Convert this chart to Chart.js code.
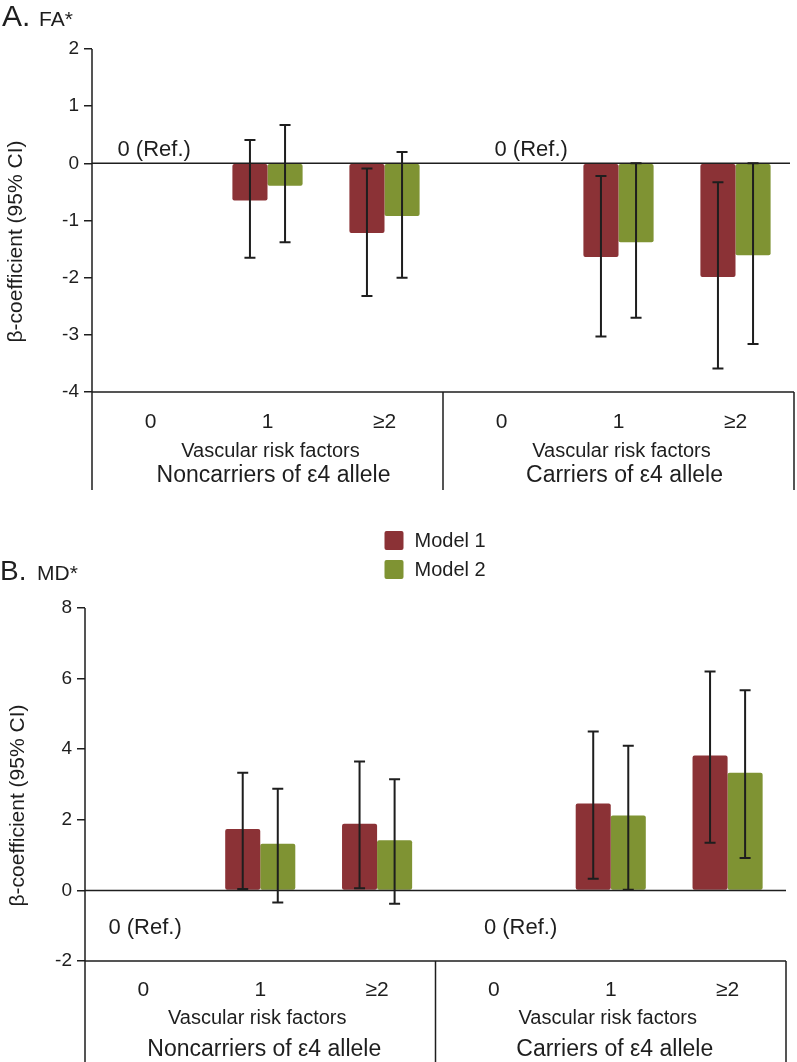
<!DOCTYPE html>
<html>
<head>
<meta charset="utf-8">
<script src="https://cdn.jsdelivr.net/npm/chart.js@4/dist/chart.umd.min.js"></script>
<style>
  html, body { margin: 0; padding: 0; background: #ffffff; }
  #wrap { position: relative; width: 797px; height: 1062px; overflow: hidden; background: #fff; }
  #c1 { position: absolute; left: 0; top: 0; }
  #c2 { position: absolute; left: 0; top: 500px; }
</style>
</head>
<body>
<div id="wrap">
  <canvas id="c1" width="797" height="500"></canvas>
  <canvas id="c2" width="797" height="562"></canvas>
</div>
<script>
// ---------------- data ----------------
const categories = ['0', '1', '≥2', '0', '1', '≥2'];
const groupLabels = ['Noncarriers of ε4 allele', 'Carriers of ε4 allele'];
const axisCaption = 'Vascular risk factors';
const seriesNames = ['Model 1', 'Model 2'];
const refLabel = '0 (Ref.)';
const yAxisTitle = 'β-coefficient (95% CI)';

// Panel A: FA
const faTicks = [-4, -3, -2, -1, 0, 1, 2];
const faModel1 = [0, -0.65, -1.22, 0, -1.64, -1.99];
const faModel1Low = [null, -1.65, -2.32, null, -3.03, -3.59];
const faModel1High = [null, 0.41, -0.09, null, -0.22, -0.33];
const faModel2 = [0, -0.39, -0.92, 0, -1.38, -1.61];
const faModel2Low = [null, -1.38, -2.00, null, -2.70, -3.16];
const faModel2High = [null, 0.67, 0.20, null, 0.00, 0.00];

// Panel B: MD
const mdTicks = [-2, 0, 2, 4, 6, 8];
const mdModel1 = [0, 1.74, 1.89, 0, 2.46, 3.82];
const mdModel1Low = [null, 0.04, 0.06, null, 0.33, 1.35];
const mdModel1High = [null, 3.33, 3.65, null, 4.50, 6.20];
const mdModel2 = [0, 1.32, 1.42, 0, 2.12, 3.33];
const mdModel2Low = [null, -0.34, -0.38, null, 0.02, 0.92];
const mdModel2High = [null, 2.88, 3.15, null, 4.10, 5.67];

// ---------------- styling ----------------
const RED = 'rgb(139,50,54)';
const GREEN = 'rgb(127,147,51)';
const INK = '#1e1e1e';
const FONT = "'Liberation Sans', Arial, Helvetica, sans-serif";
Chart.defaults.font.family = FONT;
Chart.defaults.color = INK;

const panelPlugin = {
  id: 'panel',
  afterDatasetsDraw(chart, args, o) {
    const { ctx, chartArea: a, scales: { y } } = chart;
    ctx.save();
    // zero line
    const y0 = y.getPixelForValue(0);
    ctx.strokeStyle = INK; ctx.lineWidth = 1.5;
    ctx.beginPath(); ctx.moveTo(a.left, y0); ctx.lineTo(a.right - o.zeroInset, y0); ctx.stroke();
    // error bars
    chart.data.datasets.forEach((ds, di) => {
      const meta = chart.getDatasetMeta(di);
      meta.data.forEach((bar, i) => {
        const lo = ds.errLow[i], hi = ds.errHigh[i];
        if (lo == null || hi == null) return;
        const bx = bar.x;
        const yl = y.getPixelForValue(lo), yh = y.getPixelForValue(hi);
        ctx.strokeStyle = INK; ctx.lineWidth = 2;
        ctx.beginPath();
        ctx.moveTo(bx, yl); ctx.lineTo(bx, yh);
        ctx.moveTo(bx - 5.5, yl); ctx.lineTo(bx + 5.5, yl);
        ctx.moveTo(bx - 5.5, yh); ctx.lineTo(bx + 5.5, yh);
        ctx.stroke();
      });
    });
    ctx.restore();
  },
  afterDraw(chart, args, o) {
    const { ctx, chartArea: a, scales: { x, y } } = chart;
    ctx.save();
    ctx.strokeStyle = INK; ctx.lineWidth = 1.5;
    const mid = x.getPixelForValue(2.5);
    ctx.beginPath();
    // y axis + extension down into category box
    ctx.moveTo(a.left, a.top); ctx.lineTo(a.left, o.boxBottom);
    // bottom axis line
    ctx.moveTo(a.left, a.bottom); ctx.lineTo(a.right, a.bottom);
    // separator
    ctx.moveTo(mid, a.bottom); ctx.lineTo(mid, o.boxBottom);
    // right box
    ctx.moveTo(a.right, a.bottom); ctx.lineTo(a.right, o.boxBottom);
    ctx.stroke();

    ctx.fillStyle = INK;
    ctx.textAlign = 'center'; ctx.textBaseline = 'middle';
    // caption + group labels
    [1, 4].forEach((ci, gi) => {
      const cx = x.getPixelForValue(ci);
      ctx.font = '20px ' + FONT;
      ctx.fillText(axisCaption, cx + o.capDx, a.bottom + o.capDy);
      ctx.font = '23px ' + FONT;
      ctx.fillText(groupLabels[gi], cx + o.grpDx, a.bottom + o.grpDy);
    });
    // reference labels
    ctx.textAlign = 'left';
    ctx.font = '22px ' + FONT;
    [0, 3].forEach((ci, k) => {
      ctx.fillText(refLabel, x.getPixelForValue(ci) + o.refDx[k], y.getPixelForValue(0) + o.refDy);
    });
    // y axis title
    ctx.save();
    ctx.translate(o.yTitleX, (a.top + a.bottom) / 2 + o.yTitleDy);
    ctx.rotate(-Math.PI / 2);
    ctx.textAlign = 'center';
    ctx.font = '21px ' + FONT;
    ctx.fillText(yAxisTitle, 0, 0);
    ctx.restore();
    // panel title
    ctx.textAlign = 'left'; ctx.textBaseline = 'alphabetic';
    ctx.font = o.letterSize + 'px ' + FONT;
    ctx.fillText(o.letter, o.titleX, o.titleY);
    ctx.font = '21px ' + FONT;
    ctx.fillText(o.measure, o.measureX, o.titleY);
    // legend
    if (o.legend) {
      const cx = (a.left + a.right) / 2;
      chart.data.datasets.forEach((ds, i) => {
        const ty = o.legendTop + i * 29;
        ctx.fillStyle = ds.backgroundColor;
        ctx.beginPath();
        if (ctx.roundRect) ctx.roundRect(cx - 51, ty, 19, 19, 2); else ctx.rect(cx - 51, ty, 19, 19);
        ctx.fill();
        ctx.fillStyle = INK;
        ctx.font = '20px ' + FONT;
        ctx.textBaseline = 'middle';
        ctx.fillText(ds.label, cx - 21, ty + 10);
      });
    }
    ctx.restore();
  }
};

function makeChart(id, s) {
  return new Chart(document.getElementById(id), {
    type: 'bar',
    data: {
      labels: categories,
      datasets: [
        { label: seriesNames[0], data: s.m1, errLow: s.m1Low, errHigh: s.m1High,
          backgroundColor: RED, borderRadius: 2, borderSkipped: false,
          categoryPercentage: 0.6, barPercentage: 1.0 },
        { label: seriesNames[1], data: s.m2, errLow: s.m2Low, errHigh: s.m2High,
          backgroundColor: GREEN, borderRadius: 2, borderSkipped: false,
          categoryPercentage: 0.6, barPercentage: 1.0 }
      ]
    },
    options: {
      responsive: false,
      animation: false,
      devicePixelRatio: 1,
      layout: { padding: s.padding },
      plugins: {
        legend: { display: false },
        tooltip: { enabled: false },
        panel: s.panel
      },
      scales: {
        x: {
          grid: { display: false },
          border: { display: false },
          ticks: { font: { size: 21 }, color: INK, padding: s.xPad, maxRotation: 0, autoSkip: false },
          afterFit(sc) { sc.height = s.xHeight; }
        },
        y: {
          min: s.ticks[0], max: s.ticks[s.ticks.length - 1],
          afterBuildTicks(sc) { sc.ticks = s.ticks.map(v => ({ value: v })); },
          grid: { display: true, drawOnChartArea: false, drawTicks: true, tickLength: 8, color: INK, lineWidth: 1.5 },
          border: { display: false },
          ticks: { font: { size: 19 }, color: INK, padding: 5 },
          afterFit(sc) { sc.width = s.yWidth; }
        }
      }
    },
    plugins: [panelPlugin]
  });
}

makeChart('c1', {
  m1: faModel1, m1Low: faModel1Low, m1High: faModel1High,
  m2: faModel2, m2Low: faModel2Low, m2High: faModel2High,
  ticks: faTicks,
  padding: { top: 49, right: 3, bottom: 8, left: 0 },
  xHeight: 100, xPad: 10, yWidth: 92,
  panel: {
    boxBottom: 490, zeroInset: 4,
    capDx: 3, capDy: 59, grpDx: 6, grpDy: 84,
    refDx: [-33, -7], refDy: -13,
    yTitleX: 16, yTitleDy: 21,
    letter: 'A.', letterSize: 30, measure: 'FA*', measureX: 39, titleX: 2, titleY: 26,
    legend: false
  }
});

makeChart('c2', {
  m1: mdModel1, m1Low: mdModel1Low, m1High: mdModel1High,
  m2: mdModel2, m2Low: mdModel2Low, m2High: mdModel2High,
  ticks: mdTicks,
  padding: { top: 108, right: 11, bottom: 6, left: 0 },
  xHeight: 95, xPad: 9, yWidth: 85,
  panel: {
    boxBottom: 562, zeroInset: 0,
    capDx: -3, capDy: 57, grpDx: 4, grpDy: 89,
    refDx: [-35, -10], refDy: 38,
    yTitleX: 18, yTitleDy: 21,
    letter: 'B.', letterSize: 28, measure: 'MD*', measureX: 37, titleX: 0, titleY: 80,
    legend: true, legendTop: 31
  }
});
</script>
</body>
</html>
